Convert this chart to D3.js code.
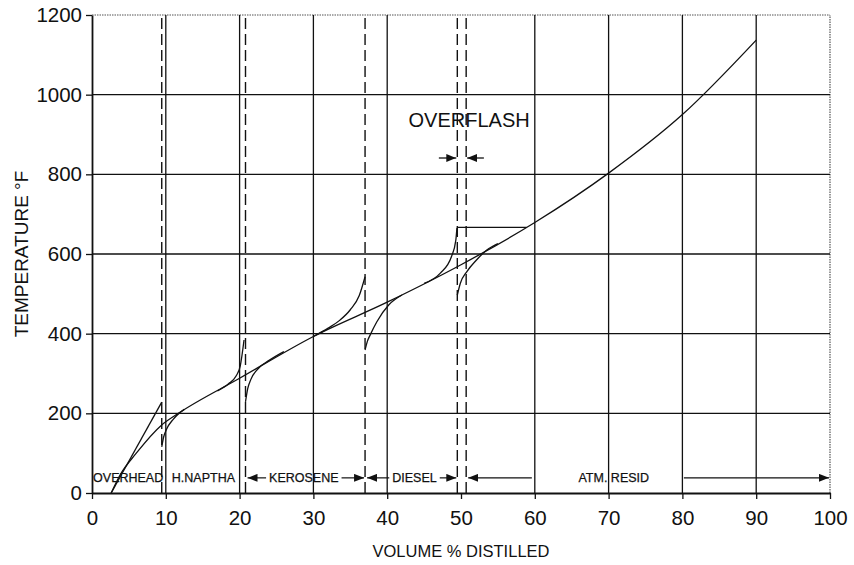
<!DOCTYPE html>
<html>
<head>
<meta charset="utf-8">
<script src="https://cdn.jsdelivr.net/npm/d3@7"></script>
<style>
  body { margin: 0; background: #fff; }
  text { font-family: "Liberation Sans", Arial, sans-serif; fill: #111; }
</style>
</head>
<body>
<svg id="chart"></svg>
<script>
// axis ticks
const xTicks = [0, 10, 20, 30, 40, 50, 60, 70, 80, 90, 100];
const yTicks = [0, 200, 400, 600, 800, 1000, 1200];
// solid vertical grid (no line at 50, the overflash cuts sit there)
const xGrid = [10, 20, 30, 40, 60, 70, 80, 90];
const yGrid = [200, 400, 600, 800, 1000];
// cut points, vol %
const cutPoints = [9.45, 20.8, 37.0, 49.5, 50.7];

// crude TBP curve
const crudeVol = [2.6, 3.8, 6, 9.45, 11.7, 20, 30, 40, 50, 60, 70, 80, 90];
const crudeTemp = [0, 45, 100, 171, 200, 288, 393, 479, 573, 679, 803, 950, 1137];

// product tails
const overheadVol = [2.6, 9.45];
const overheadTemp = [0, 228];
const naphthaLowVol = [9.45, 9.7, 10.1, 11, 12.5];
const naphthaLowTemp = [116, 140, 160, 185, 210];
const naphthaHighVol = [17, 18.5, 19.5, 20.1, 20.6];
const naphthaHighTemp = [256, 274, 293, 320, 384];
const keroLowVol = [20.8, 21.1, 21.5, 22.5, 24, 26];
const keroLowTemp = [229, 262, 284, 312, 333, 355];
const keroHighVol = [30, 32, 33.6, 35, 36.2, 37.0];
const keroHighTemp = [393, 414, 434, 460, 495, 543];
const dieselLowVol = [37, 37.3, 37.7, 38.6, 40.2, 42];
const dieselLowTemp = [359, 380, 397, 430, 472, 497];
const dieselHighVol = [45, 47.2, 48.7, 49.3, 49.45];
const dieselHighTemp = [526, 552, 593, 635, 665];
const flashVol = [49.45, 58.9];
const flashTemp = [667, 667];
const residLowVol = [49.5, 49.9, 50.8, 52.1, 53.5, 55];
const residLowTemp = [497, 526, 556, 585, 610, 626];

// product labels along the bottom (vol % ranges)
const bandNames = ["OVERHEAD", "H.NAPTHA", "KEROSENE", "DIESEL", "ATM. RESID"];
const bandFrom = [0, 9.45, 20.8, 37.0, 50.7];
const bandTo = [9.45, 20.8, 37.0, 49.5, 100];
const bandCenter = [4.9, 15.1, 28.7, 43.7, 70.7];
const bandArrows = [false, false, true, true, true];

const width = 854, height = 565;
const margin = { top: 15, right: 24, bottom: 72, left: 92 };

const svg = d3.select("#chart")
  .attr("width", width)
  .attr("height", height)
  .attr("viewBox", [0, 0, width, height]);

const x = d3.scaleLinear().domain([0, 100]).range([margin.left, width - margin.right]);
const y = d3.scaleLinear().domain([0, 1200]).range([height - margin.bottom, margin.top]);

// arrow marker
const defs = svg.append("defs");
defs.append("marker")
  .attr("id", "arrow")
  .attr("viewBox", "0 0 10 8")
  .attr("refX", 10).attr("refY", 4)
  .attr("markerWidth", 10).attr("markerHeight", 8)
  .attr("markerUnits", "userSpaceOnUse")
  .attr("orient", "auto")
  .append("path").attr("d", "M0,0L10,4L0,8Z").attr("fill", "#111");

// frame top / right (dotted)
svg.append("line")
  .attr("x1", x(0)).attr("x2", x(100)).attr("y1", y(1200)).attr("y2", y(1200))
  .attr("stroke", "#555").attr("stroke-width", 1.2).attr("stroke-dasharray", "1.5,1");
svg.append("line")
  .attr("x1", x(100)).attr("x2", x(100)).attr("y1", y(0)).attr("y2", y(1200))
  .attr("stroke", "#555").attr("stroke-width", 1.2).attr("stroke-dasharray", "1.5,1");

// grid
svg.append("g").selectAll("line").data(yGrid).join("line")
  .attr("x1", x(0)).attr("x2", x(100))
  .attr("y1", d => y(d)).attr("y2", d => y(d))
  .attr("stroke", "#111").attr("stroke-width", 1.3);
svg.append("g").selectAll("line").data(xGrid).join("line")
  .attr("x1", d => x(d)).attr("x2", d => x(d))
  .attr("y1", y(0)).attr("y2", y(1200))
  .attr("stroke", "#111").attr("stroke-width", 1.3);

// cut lines (dashed)
svg.append("g").selectAll("line").data(cutPoints).join("line")
  .attr("x1", d => x(d)).attr("x2", d => x(d))
  .attr("y1", y(0)).attr("y2", y(1200))
  .attr("stroke", "#111").attr("stroke-width", 1.4)
  .attr("stroke-dasharray", "11,5");

// axes
const xAxis = svg.append("g")
  .attr("transform", `translate(0 ${y(0)})`)
  .call(d3.axisBottom(x).tickValues(xTicks).tickFormat(d3.format("d"))
    .tickSize(6).tickSizeOuter(0).tickPadding(11));
const yAxis = svg.append("g")
  .attr("transform", `translate(${x(0)} 0)`)
  .call(d3.axisLeft(y).tickValues(yTicks).tickFormat(d3.format("d"))
    .tickSize(6).tickSizeOuter(0).tickPadding(4));
[xAxis, yAxis].forEach(a => {
  a.select(".domain").attr("stroke", "#111").attr("stroke-width", 1.8);
  a.selectAll(".tick line").attr("stroke", "#111").attr("stroke-width", 1.3);
  a.selectAll(".tick text").attr("font-size", 20.5).attr("font-family", "Liberation Sans, Arial, sans-serif").attr("fill", "#111");
});

// curves
const line = d3.line().x(d => x(d[0])).y(d => y(d[1])).curve(d3.curveMonotoneX);
const straight = d3.line().x(d => x(d[0])).y(d => y(d[1]));
const zip = (a, b) => a.map((v, i) => [v, b[i]]);

const curves = [
  [crudeVol, crudeTemp, line],
  [overheadVol, overheadTemp, straight],
  [naphthaLowVol, naphthaLowTemp, line],
  [naphthaHighVol, naphthaHighTemp, line],
  [keroLowVol, keroLowTemp, line],
  [keroHighVol, keroHighTemp, line],
  [dieselLowVol, dieselLowTemp, line],
  [dieselHighVol, dieselHighTemp, line],
  [flashVol, flashTemp, straight],
  [residLowVol, residLowTemp, line],
];
svg.append("g").selectAll("path").data(curves).join("path")
  .attr("d", d => d[2](zip(d[0], d[1])))
  .attr("fill", "none").attr("stroke", "#111").attr("stroke-width", 1.3);

// bottom product labels
const labelY = y(38);
const bands = svg.append("g");
bandNames.forEach((name, i) => {
  const t = bands.append("text")
    .attr("x", x(bandCenter[i])).attr("y", labelY + 4.5)
    .attr("text-anchor", "middle").attr("font-size", 12.5)
    .attr("stroke", "#111").attr("stroke-width", 0.25)
    .text(name);
  if (!bandArrows[i]) return;
  const w = t.node().getComputedTextLength();
  const left = x(bandCenter[i]) - w / 2 - 3;
  const right = x(bandCenter[i]) + w / 2 + 3;
  let leftEnd = left, rightStart = right;
  // the resid arrows stop short of the text
  if (i === 4) { leftEnd = x(59.6); rightStart = x(80.2); }
  bands.append("line")
    .attr("x1", leftEnd).attr("x2", x(bandFrom[i]) + 2)
    .attr("y1", labelY).attr("y2", labelY)
    .attr("stroke", "#111").attr("stroke-width", 1.2)
    .attr("marker-end", "url(#arrow)");
  bands.append("line")
    .attr("x1", rightStart).attr("x2", x(bandTo[i]) - 1)
    .attr("y1", labelY).attr("y2", labelY)
    .attr("stroke", "#111").attr("stroke-width", 1.2)
    .attr("marker-end", "url(#arrow)");
});

// overflash annotation
svg.append("text")
  .attr("x", x(51.1)).attr("y", 127)
  .attr("text-anchor", "middle").attr("font-size", 20)
  .text("OVERFLASH");
svg.append("line")
  .attr("x1", x(47)).attr("x2", x(49.5) - 1)
  .attr("y1", 158).attr("y2", 158)
  .attr("stroke", "#111").attr("stroke-width", 1.3)
  .attr("marker-end", "url(#arrow)");
svg.append("line")
  .attr("x1", x(53.1)).attr("x2", x(50.7) + 1)
  .attr("y1", 158).attr("y2", 158)
  .attr("stroke", "#111").attr("stroke-width", 1.3)
  .attr("marker-end", "url(#arrow)");

// axis titles
svg.append("text")
  .attr("x", (x(0) + x(100)) / 2).attr("y", 557)
  .attr("text-anchor", "middle").attr("font-size", 16.5)
  .text("VOLUME % DISTILLED");
svg.append("text")
  .attr("transform", `translate(28 ${(y(0) + y(1200)) / 2}) rotate(-90)`)
  .attr("text-anchor", "middle").attr("font-size", 19)
  .text("TEMPERATURE °F");
</script>
</body>
</html>
